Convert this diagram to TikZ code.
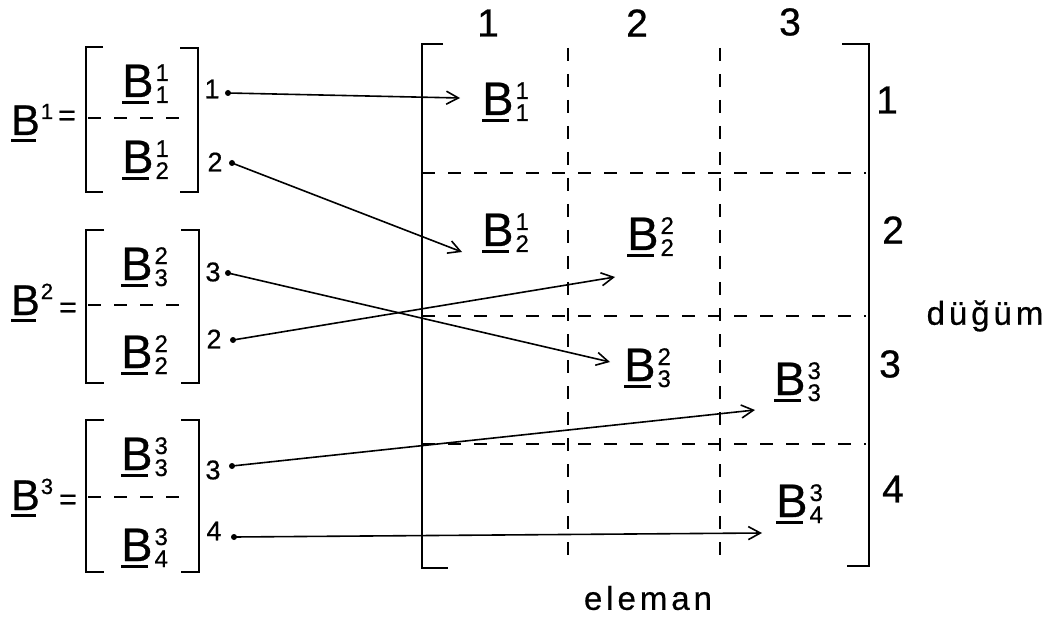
\documentclass[tikz,border=0pt]{standalone}
\usepackage{fontspec}
\setmainfont{Liberation Sans}[FakeBold=0.6]
\usetikzlibrary{arrows.meta}
\newsavebox\Bbox
\newcommand\uB{\sbox\Bbox{B}\rlap{\rule[-7pt]{0.85\wd\Bbox}{2.6pt}}\usebox\Bbox}
\newcommand\Bm[2]{\uB\kern2pt\rlap{\raisebox{16pt}{\fontsize{24}{24}\selectfont #1}}\raisebox{-6pt}{\fontsize{24}{24}\selectfont #2}}
\newcommand\Bl[1]{\uB\kern1pt\raisebox{16pt}{\fontsize{22}{22}\selectfont #1}}
\tikzset{
  ent/.style={anchor=base west, inner sep=0pt, font=\fontsize{47}{47}\selectfont},
  lab/.style={anchor=base west, inner sep=0pt, font=\fontsize{43}{43}\selectfont},
  eqs/.style={inner sep=0pt, font=\fontsize{30}{30}\selectfont},
  num/.style={inner sep=0pt, font=\fontsize{39}{39}\selectfont},
  sml/.style={inner sep=0pt, font=\fontsize{27}{27}\selectfont},
  word/.style={inner sep=0pt, font=\fontsize{33}{33}\selectfont\addfontfeatures{LetterSpace=12}},
  brk/.style={line width=2.8pt},
  gridl/.style={line width=2.5pt, dash pattern=on 13pt off 13pt},
  arr/.style={line width=1.6pt, -{Straight Barb[length=12pt,width=13pt,line width=1.6pt]}},
  dotn/.style={circle, fill, inner sep=0pt, minimum size=6pt},
}
\begin{document}
\begin{tikzpicture}[x=1pt,y=-1pt]
\useasboundingbox (0,0) rectangle (1056,617);

% ---------- left matrices ----------
% B^1
\node[lab] (L1) at (11,135) {\Bl{1}};
\node[eqs] (E1) at (67,118) {=};
\draw[brk] (103,47) -- (86,47) -- (86,192) -- (103,192);
\draw[brk] (180,48) -- (198,48) -- (198,192) -- (180,192);
\draw[gridl] (88,118) -- (180,118);
\node[ent] (a11) at (122,97) {\Bm{1}{1}};
\node[ent] (a12) at (122,173) {\Bm{1}{2}};
\node[sml] (r11) at (212,89) {1};
\node[sml] (r12) at (215,162) {2};
\node[dotn] (s1) at (228,93) {};
\node[dotn] (s2) at (232,163) {};

% B^2
\node[lab] (L2) at (11,315) {\Bl{2}};
\node[eqs] (E2) at (68,310) {=};
\draw[brk] (104,230) -- (86,230) -- (86,383) -- (104,383);
\draw[brk] (181,230) -- (199,230) -- (199,383) -- (181,383);
\draw[gridl] (88,305) -- (190,305);
\node[ent] (a23) at (121,280) {\Bm{2}{3}};
\node[ent] (a22) at (121,368) {\Bm{2}{2}};
\node[sml] (r23) at (213,272) {3};
\node[sml] (r22) at (214,339) {2};
\node[dotn] (s3) at (228,273) {};
\node[dotn] (s4) at (233,340) {};

% B^3
\node[lab] (L3) at (11,510) {\Bl{3}};
\node[eqs] (E3) at (68,502) {=};
\draw[brk] (104,420) -- (86,420) -- (86,572) -- (104,572);
\draw[brk] (181,420) -- (199,420) -- (199,572) -- (181,572);
\draw[gridl] (88,497) -- (190,497);
\node[ent] (a33) at (121,470) {\Bm{3}{3}};
\node[ent] (a34) at (121,561) {\Bm{3}{4}};
\node[sml] (r33) at (213,470) {3};
\node[sml] (r34) at (214,531) {4};
\node[dotn] (s5) at (232,466) {};
\node[dotn] (s6) at (234,537) {};

% ---------- big matrix ----------
\draw[brk] (443,44) -- (422,44) -- (422,568) -- (448,568);
\draw[brk] (842,44) -- (869,44) -- (869,566) -- (847,566);
\draw[gridl] (422,173) -- (866,173);
\draw[gridl] (422,316) -- (866,316);
\draw[gridl] (422,444) -- (866,444);
\draw[gridl] (568,48) -- (568,568);
\draw[gridl] (720,48) -- (720,568);

\node[num] (c1) at (488,23) {1};
\node[num] (c2) at (637,23) {2};
\node[num] (c3) at (790,22) {3};

\node[num] (n1) at (887,100) {1};
\node[num] (n2) at (893,230) {2};
\node[num] (n3) at (890,364) {3};
\node[num] (n4) at (893,489) {4};

\node[word] (dg) at (985,316) {düğüm};
\node[word] (el) at (648,598) {eleman};

\node[ent] (g11) at (482,115) {\Bm{1}{1}};
\node[ent] (g12) at (482,246) {\Bm{1}{2}};
\node[ent] (g22) at (627,250) {\Bm{2}{2}};
\node[ent] (g23) at (624,381) {\Bm{2}{3}};
\node[ent] (g33) at (774,395) {\Bm{3}{3}};
\node[ent] (g34) at (776,517) {\Bm{3}{4}};

% ---------- arrows ----------
\coordinate (t1) at (460,98);
\coordinate (t2) at (462,252);
\coordinate (t3) at (610,362);
\coordinate (t4) at (615,277);
\coordinate (t5) at (755,410);
\coordinate (t6) at (762,533);
\draw[arr] (s1.center) -- (t1);
\draw[arr] (s2.center) -- (t2);
\draw[arr] (s3.center) -- (t3);
\draw[arr] (s4.center) -- (t4);
\draw[arr] (s5.center) -- (t5);
\draw[arr] (s6.center) -- (t6);
\end{tikzpicture}
\end{document}
